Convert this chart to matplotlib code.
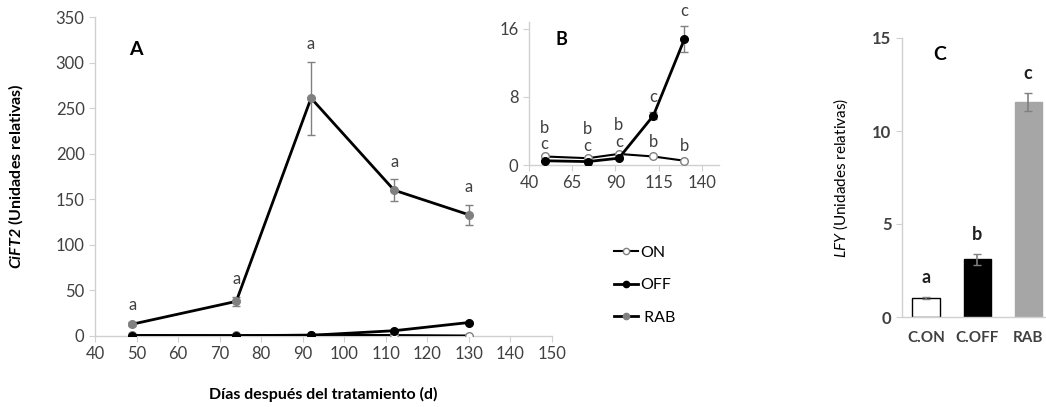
import matplotlib
matplotlib.use("Agg")
import matplotlib.pyplot as plt
from matplotlib.lines import Line2D

plt.rcParams['font.family'] = ['Lato', 'DejaVu Sans']
plt.rcParams['mathtext.fontset'] = 'custom'
plt.rcParams['mathtext.it'] = 'Lato:italic'
plt.rcParams['mathtext.bf'] = 'Lato:bold'
plt.rcParams['mathtext.bfit'] = 'Lato:italic:bold'

# panel A / B data (days after treatment)
days = [49, 74, 92, 112, 130]
rab = [13, 38, 261, 160, 133]
rab_err = [2, 5, 40, 12, 11]
on = [1.0, 0.8, 1.3, 1.0, 0.5]
off = [0.5, 0.4, 0.8, 5.8, 14.8]
off_err = [0.1, 0.1, 0.1, 0.4, 1.5]
rab_letters = ['a', 'a', 'a', 'a', 'a']
off_letters = ['c', 'c', 'c', 'c', 'c']
on_letters = ['b', 'b', 'b', 'b', 'b']

# panel C data
groups = ['C.ON', 'C.OFF', 'RAB']
lfy = [1.0, 3.1, 11.55]
lfy_err = [0.05, 0.3, 0.5]
lfy_letters = ['a', 'b', 'c']

W, H = 1046, 407
fig = plt.figure(figsize=(W / 100, H / 100), dpi=100)


def box(x0, y0, x1, y1):
    return [x0 / W, 1 - y1 / H, (x1 - x0) / W, (y1 - y0) / H]


axis_col = '#d0d0d0'
tick_col = '#404040'
grey = '#808080'
ms = 5.5


def style(ax):
    for s in ['top', 'right']:
        ax.spines[s].set_visible(False)
    for s in ['left', 'bottom']:
        ax.spines[s].set_color(axis_col)
        ax.spines[s].set_linewidth(1)
    ax.tick_params(colors=axis_col, labelcolor=tick_col, labelsize=12, length=4)


# ---- panel A ----
axA = fig.add_axes(box(95, 17, 552, 336))
style(axA)
axA.errorbar(days, rab, yerr=rab_err, color='black', lw=2, marker='o', ms=ms,
             mfc=grey, mec=grey, ecolor=grey, elinewidth=1, capsize=3, zorder=3)
axA.plot(days, on, color='black', lw=1.5, marker='o', ms=ms, mfc='white', mec=grey, zorder=4)
axA.plot(days, off, color='black', lw=2, marker='o', ms=ms, mfc='black', mec='black', zorder=5)
for x, y, e, t in zip(days, rab, rab_err, rab_letters):
    axA.annotate(t, (x, y + e), xytext=(0, 7), textcoords='offset points',
                 ha='center', va='bottom', fontsize=12, color=tick_col)
axA.set_xlim(40, 150)
axA.set_ylim(0, 350)
axA.set_xticks(range(40, 151, 10))
axA.set_yticks(range(0, 351, 50))
axA.text(0.075, 0.88, 'A', transform=axA.transAxes, fontsize=14, fontweight='bold')
axA.set_ylabel(r'$\mathbfit{CiFT2}$ (Unidades relativas)', fontsize=11.5, fontweight='bold', labelpad=22)
axA.set_xlabel('Días después del tratamiento (d)', fontsize=11.5, fontweight='bold', labelpad=18)

handles = [
    Line2D([], [], color='black', lw=1.5, marker='o', ms=4.5, mfc='white', mec=grey),
    Line2D([], [], color='black', lw=2, marker='o', ms=4.5, mfc='black', mec='black'),
    Line2D([], [], color='black', lw=2, marker='o', ms=4.5, mfc=grey, mec=grey),
]
fig.legend(handles, ['ON', 'OFF', ' RAB'], loc='upper left',
           bbox_to_anchor=(600 / W, 1 - 231 / H), frameon=False, fontsize=11.5,
           handlelength=1.5, handletextpad=0.1, labelspacing=1.15)

# ---- panel B ----
axB = fig.add_axes(box(529, 22, 719, 165))
style(axB)
axB.plot(days, on, color='black', lw=1.5, marker='o', ms=ms, mfc='white', mec=grey, zorder=3)
axB.errorbar(days, off, yerr=off_err, color='black', lw=2, marker='o', ms=ms,
             mfc='black', mec='black', ecolor=grey, elinewidth=1, capsize=3, zorder=4)
for i, x in enumerate(days):
    if i < 3:
        top = max(on[i], off[i])
        axB.annotate(off_letters[i], (x, top), xytext=(0, 3), textcoords='offset points',
                     ha='center', va='bottom', fontsize=12, color=tick_col)
        axB.annotate(on_letters[i], (x, top), xytext=(0, 15), textcoords='offset points',
                     ha='center', va='bottom', fontsize=12, color=tick_col)
    else:
        axB.annotate(off_letters[i], (x, off[i] + off_err[i]), xytext=(0, 5), textcoords='offset points',
                     ha='center', va='bottom', fontsize=12, color=tick_col)
        axB.annotate(on_letters[i], (x, on[i]), xytext=(0, 5), textcoords='offset points',
                     ha='center', va='bottom', fontsize=12, color=tick_col)
axB.set_xlim(40, 150)
axB.set_ylim(0, 16.8)
axB.set_xticks(range(40, 141, 25))
axB.set_yticks([0, 8, 16])
axB.text(0.14, 0.84, 'B', transform=axB.transAxes, fontsize=13, fontweight='bold')

# ---- panel C ----
axC = fig.add_axes(box(902, 38, 1046, 317))
style(axC)
axC.bar(range(3), lfy, width=0.53, color=['white', 'black', '#a6a6a6'],
        edgecolor=['black', 'black', '#a6a6a6'], lw=1,
        yerr=lfy_err, ecolor=grey, error_kw=dict(elinewidth=1.2, capsize=3))
for i, (v, e, t) in enumerate(zip(lfy, lfy_err, lfy_letters)):
    axC.annotate(t, (i, v + e), xytext=(0, 8), textcoords='offset points',
                 ha='center', va='bottom', fontsize=13, fontweight='bold', color='#202020')
axC.set_xlim(-0.47, 2.35)
axC.set_ylim(0, 15)
axC.set_xticks(range(3))
axC.set_xticklabels(groups, fontweight='bold', fontsize=11)
axC.set_yticks([0, 5, 10, 15])
axC.tick_params(axis='x', length=0, pad=10)
axC.tick_params(axis='y', labelsize=12)
for t in axC.get_yticklabels():
    t.set_fontweight('bold')
axC.text(0.22, 0.92, 'C', transform=axC.transAxes, fontsize=14, fontweight='bold')
axC.set_ylabel(r'$\mathit{LFY}$ (Unidades relativas)', fontsize=11, labelpad=16)

fig.savefig('out.png', dpi=100)
